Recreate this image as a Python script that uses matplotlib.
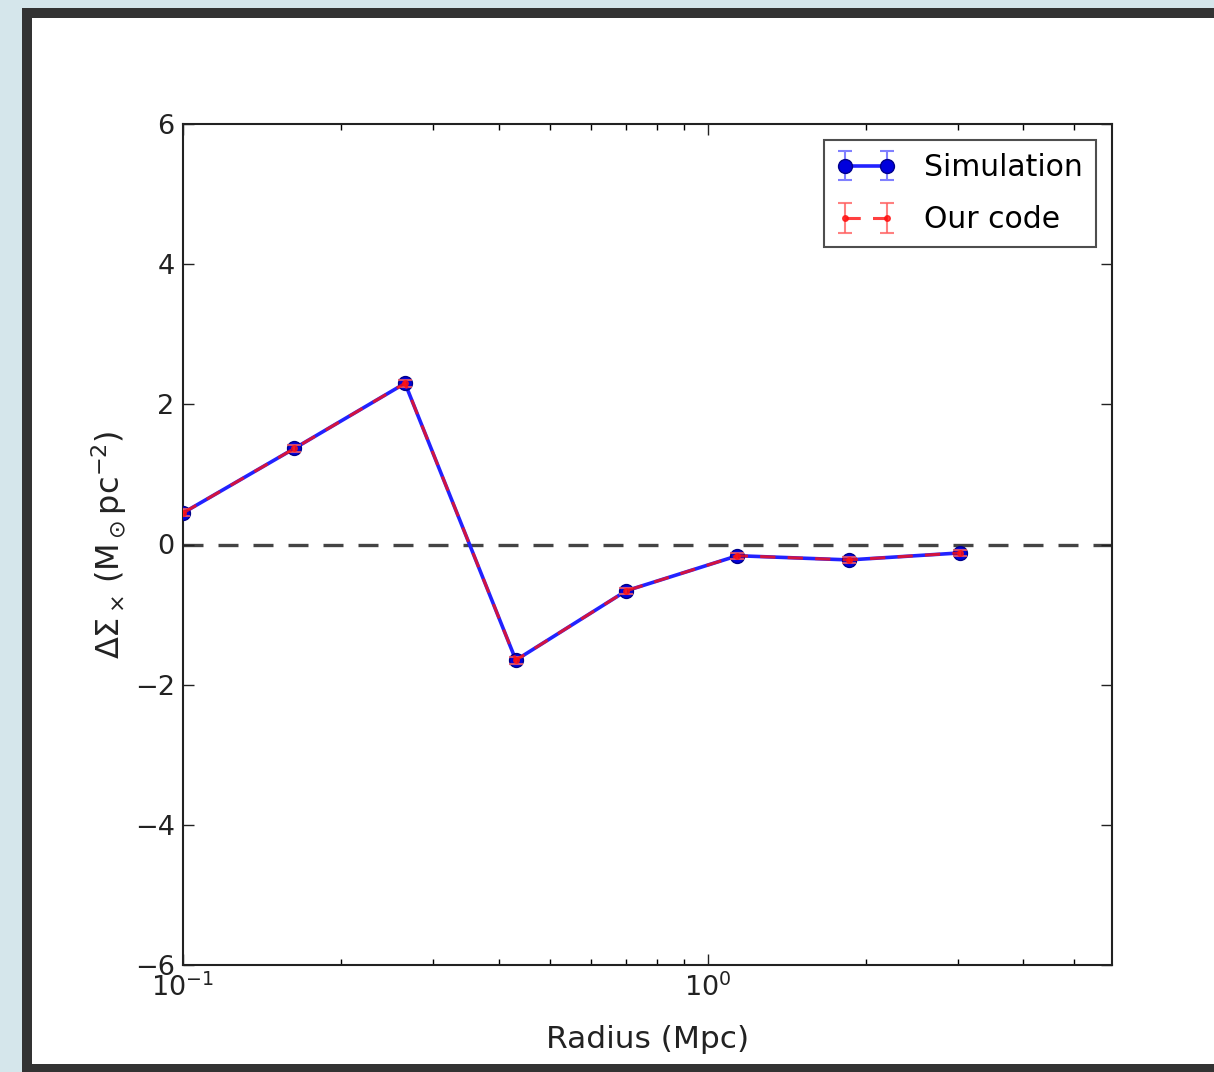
import matplotlib
matplotlib.use("Agg")
import matplotlib.pyplot as plt
from matplotlib.patches import Rectangle
import numpy as np

# Data
radius = [0.1, 0.163, 0.265, 0.431, 0.70, 1.14, 1.86, 3.03]
sim_values = [0.45, 1.37, 2.30, -1.65, -0.66, -0.16, -0.22, -0.12]
sim_errors = [0.05, 0.05, 0.05, 0.05, 0.04, 0.04, 0.04, 0.04]
code_values = [0.45, 1.37, 2.30, -1.65, -0.66, -0.16, -0.22, -0.12]
code_errors = [0.05, 0.05, 0.05, 0.05, 0.04, 0.04, 0.04, 0.04]
series_labels = ["Simulation", "Our code"]
x_label = "Radius (Mpc)"
y_label = r"$\Delta\Sigma_\times\,(\mathrm{M}_\odot\mathrm{pc}^{-2})$"
y_ticks = [-6, -4, -2, 0, 2, 4, 6]

W, H = 1214, 1072
fig = plt.figure(figsize=(W / 100, H / 100), dpi=100)
fig.patch.set_facecolor("#d5e6eb")

# slide frame
frame = Rectangle((27 / W, 1 - 1069 / H), 1.2, (1069 - 13) / H,
                  transform=fig.transFigure, facecolor="white",
                  edgecolor="#333333", linewidth=7.2, zorder=-5)
fig.patches.append(frame)

ax = fig.add_axes([183 / W, 1 - 965 / H, (1112 - 183) / W, (965 - 124) / H])
ax.set_zorder(2)
ax.set_xscale("log")

ax.axhline(0, color="#444444", linestyle="--", dashes=(6, 4.5), linewidth=2.4, zorder=1)

ax.errorbar(radius, sim_values, yerr=sim_errors, fmt="o-", color="#2222ff",
            ecolor="#8080ff", elinewidth=1.5, capsize=5, capthick=1.5,
            markersize=10, linewidth=2.6, markeredgecolor="#00008b",
            markerfacecolor="#0000dd", label=series_labels[0], zorder=3)
ax.errorbar(radius, code_values, yerr=code_errors, fmt=".--", color="#ff1010",
            ecolor="#ff6060", elinewidth=1.5, capsize=5, capthick=1.5,
            markersize=8, linewidth=2.2, dashes=(5, 4), alpha=0.8,
            label=series_labels[1], zorder=4)

ax.set_xlim(0.1, 5.9)
ax.set_ylim(-6, 6)
ax.set_yticks(y_ticks)
ax.set_yticklabels([("\u2212%d" % -v) if v < 0 else "%d" % v for v in y_ticks])

for s in ax.spines.values():
    s.set_linewidth(1.5)
    s.set_color("#222222")
ax.tick_params(which="major", direction="in", length=8, width=1.0, top=True, right=True,
               labelsize=19.5, pad=6, colors="#222222")
ax.tick_params(which="minor", direction="in", length=4, width=1.0, top=True, right=True)

ax.set_xlabel(x_label, fontsize=22.5, labelpad=17, color="#222222")
ax.set_ylabel(y_label, fontsize=23, labelpad=4, color="#222222")

leg = ax.legend(loc="upper right", fontsize=21.5, frameon=True, fancybox=False,
                borderaxespad=0.55, handlelength=2.0, numpoints=2,
                borderpad=0.42, labelspacing=0.78, handletextpad=0.95)
leg.get_frame().set_edgecolor("#222222")
leg.get_frame().set_linewidth(1.5)

fig.savefig("out.png", dpi=100, facecolor=fig.get_facecolor())
